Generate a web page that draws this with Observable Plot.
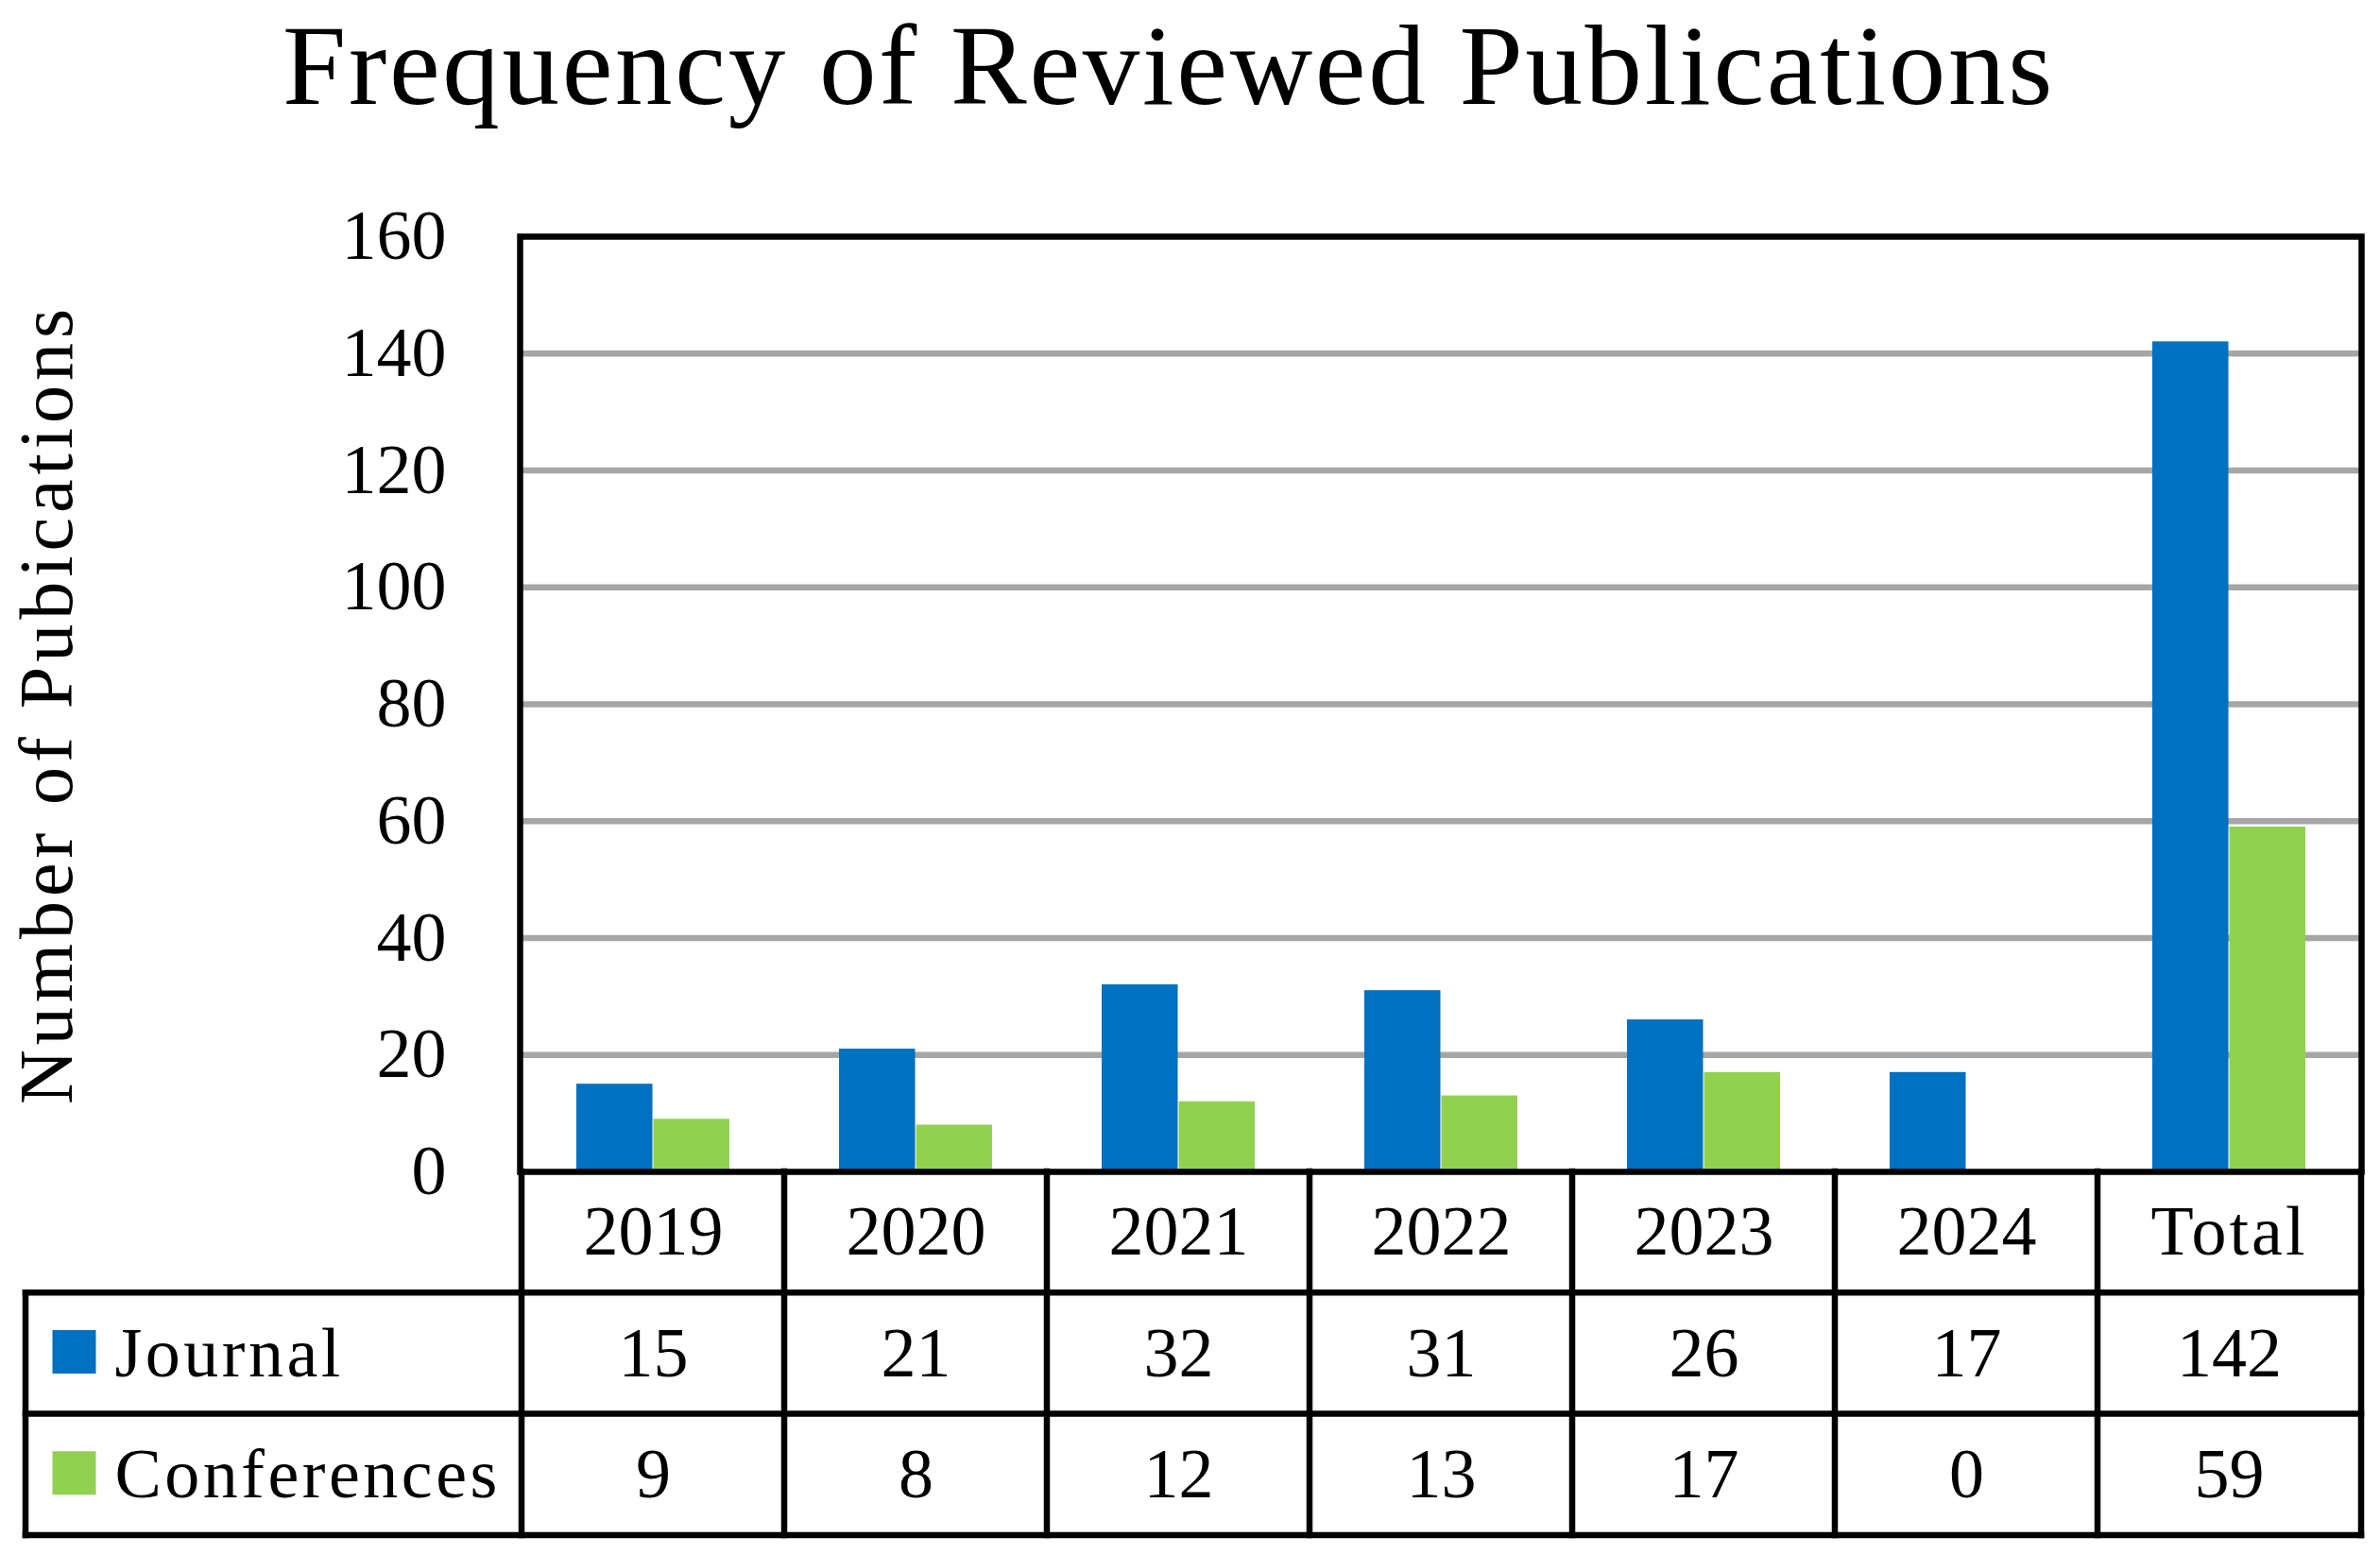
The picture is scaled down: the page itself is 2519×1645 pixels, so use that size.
<!DOCTYPE html>
<html>
<head>
<meta charset="utf-8">
<script src="https://cdn.jsdelivr.net/npm/d3@7"></script>
<script src="https://cdn.jsdelivr.net/npm/@observablehq/plot@0.6"></script>
<style>
  html, body { margin: 0; padding: 0; background: #fff; overflow: hidden; }
  #title {
    width: 2474px; height: 170px; line-height: 138px; margin: 0;
    text-align: center; font-family: "Liberation Serif", serif; font-size: 121px;
    font-weight: normal; letter-spacing: 2.7px; color: #000; white-space: nowrap;
  }
</style>
</head>
<body>
<div id="title">Frequency of Reviewed Publications</div>
<div id="chart"></div>
<script>
const categories = ["2019", "2020", "2021", "2022", "2023", "2024", "Total"];
const journal = [15, 21, 32, 31, 26, 17, 142];
const conferences = [9, 8, 12, 13, 17, 0, 59];
const seriesNames = ["Journal", "Conferences"];
const seriesColors = ["#0070C0", "#92D050"];
const yTicks = [0, 20, 40, 60, 80, 100, 120, 140, 160];
const yLabel = "Number of Pubications";

const rows = categories.map((c, i) => ({category: c, journal: journal[i], conferences: conferences[i]}));

const rowH = 128.3;      // table row height (px)
const tableLeft = 27;    // left edge of the legend column (px)
const lw = 6.5;          // line width

function tableGrid(index, scales, values, dims) {
  const x = scales.x;
  const right = dims.width - dims.marginRight;
  const bottom = dims.height - dims.marginBottom;
  const g = d3.create("svg:g").attr("stroke", "black").attr("stroke-width", lw).attr("stroke-linecap", "square").attr("fill", "none");
  for (let k = 1; k <= 3; k++) {
    g.append("line").attr("x1", tableLeft).attr("x2", right).attr("y1", bottom + k * rowH).attr("y2", bottom + k * rowH);
  }
  const xs = categories.map(c => x(c)).concat([right]);
  for (const xv of xs) {
    g.append("line").attr("x1", xv).attr("x2", xv).attr("y1", bottom).attr("y2", bottom + 3 * rowH);
  }
  g.append("line").attr("x1", tableLeft).attr("x2", tableLeft).attr("y1", bottom + rowH).attr("y2", bottom + 3 * rowH);
  return g.node();
}

const fs = 74;
const cell = {frameAnchor: "bottom", lineAnchor: "middle", textAnchor: "middle", fontSize: fs, fill: "black"};
const chart = Plot.plot({
  width: 2519,
  height: 1475,
  marginLeft: 550,
  marginRight: 20,
  marginTop: 80,
  marginBottom: 405,
  style: {fontFamily: "'Liberation Serif', serif", fontSize: fs + "px", color: "black", background: "white"},
  x: {type: "band", domain: categories, padding: 0, axis: null},
  y: {domain: [0, 160], axis: null},
  marks: [
    Plot.gridY(yTicks.filter(t => t > 0 && t < 160), {stroke: "#A6A6A6", strokeOpacity: 1, strokeWidth: lw}),
    Plot.barY(rows, {x: "category", y: "journal", fill: seriesColors[0], insetLeft: 58, insetRight: 139.5}),
    Plot.barY(rows, {x: "category", y: "conferences", fill: seriesColors[1], insetLeft: 139.5, insetRight: 58}),
    Plot.frame({stroke: "black", strokeWidth: lw}),
    Plot.axisY(yTicks, {tickSize: 0, tickPadding: 78, fontSize: fs, fill: "black", label: null}),
    Plot.text([yLabel], {text: d => d, frameAnchor: "left", textAnchor: "middle", lineAnchor: "middle", rotate: -90, dx: -500, fontSize: 80, fill: "black"}),
    tableGrid,
    Plot.text(rows, {...cell, x: "category", text: "category", dy: rowH * 0.5}),
    Plot.text(rows, {...cell, x: "category", text: d => String(d.journal), dy: rowH * 1.5}),
    Plot.text(rows, {...cell, x: "category", text: d => String(d.conferences), dy: rowH * 2.5}),
    Plot.dot([seriesNames[0]], {frameAnchor: "bottom-left", dx: -472, dy: rowH * 1.5 - 2, symbol: "square", r: 25.95, fill: seriesColors[0], stroke: null}),
    Plot.dot([seriesNames[1]], {frameAnchor: "bottom-left", dx: -472, dy: rowH * 2.5 - 2, symbol: "square", r: 25.95, fill: seriesColors[1], stroke: null}),
    Plot.text([seriesNames[0]], {text: d => d, frameAnchor: "bottom-left", dx: -429, dy: rowH * 1.5, textAnchor: "start", lineAnchor: "middle", fontSize: fs, fill: "black"}),
    Plot.text([seriesNames[1]], {text: d => d, frameAnchor: "bottom-left", dx: -429, dy: rowH * 2.5, textAnchor: "start", lineAnchor: "middle", fontSize: fs, fill: "black"})
  ]
});
document.getElementById("chart").appendChild(chart);
const spacing = {"Journal": "3.5px", "Conferences": "3.5px", "Total": "3px"};
spacing[yLabel] = "5px";
d3.select(chart).selectAll("text").each(function() {
  const s = spacing[this.textContent];
  if (s) this.style.letterSpacing = s;
});
</script>
</body>
</html>
